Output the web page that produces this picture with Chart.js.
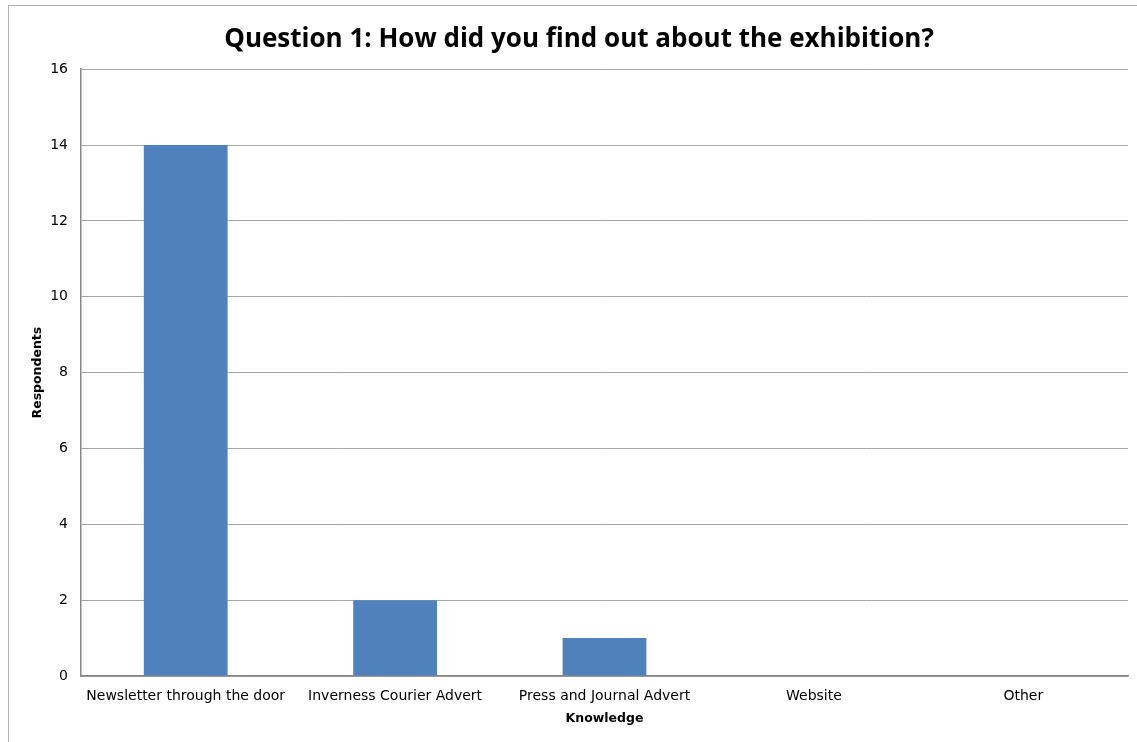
<!DOCTYPE html>
<html>
<head>
<meta charset="utf-8">
<script src="https://cdn.jsdelivr.net/npm/chart.js@4/dist/chart.umd.min.js"></script>
<style>
  html, body { margin: 0; padding: 0; background: #fff; overflow: hidden; }
  #wrap { position: absolute; left: 0; top: 0; width: 1137px; height: 742px; }
  #frame { position: absolute; left: 8px; top: 5px; width: 1200px; height: 800px; border: 1px solid #b3b3b3; box-sizing: border-box; }
</style>
</head>
<body>
<div id="frame"></div>
<div id="wrap"><canvas id="chart" width="1137" height="742"></canvas></div>
<script>
const categories = ['Newsletter through the door', 'Inverness Courier Advert', 'Press and Journal Advert', 'Website', 'Other'];
const respondents = [14, 2, 1, 0, 0];
const yTicks = [0, 2, 4, 6, 8, 10, 12, 14, 16];

const tickFont = { family: 'DejaVu Sans', size: 14 };
const boldFont = { family: 'DejaVu Sans', size: 12.5, weight: 'bold' };

new Chart(document.getElementById('chart'), {
    type: 'bar',
    data: {
        labels: categories,
        datasets: [{
            label: 'Respondents',
            data: respondents,
            backgroundColor: '#4F81BD',
            barPercentage: 0.8,
            categoryPercentage: 0.5
        }]
    },
    options: {
        responsive: false,
        animation: false,
        layout: { padding: { left: 30, right: 9, top: 0, bottom: 16 } },
        plugins: {
            legend: { display: false },
            tooltip: { enabled: false },
            title: {
                display: true,
                text: 'Question 1: How did you find out about the exhibition?',
                color: '#000',
                font: { family: 'Open Sans', size: 26, weight: 'bold', lineHeight: 1.2 },
                padding: { top: 24, bottom: 14 }
            }
        },
        scales: {
            x: {
                grid: { display: false },
                border: { display: true, color: '#868686', width: 1.5 },
                ticks: { color: '#000', font: tickFont, padding: 4, maxRotation: 0, autoSkip: false },
                title: { display: true, text: 'Knowledge', color: '#000', font: boldFont, padding: { top: 2, bottom: 0 } },
                afterFit: s => { s.height = 50; }
            },
            y: {
                min: 0,
                max: 16,
                afterBuildTicks: s => { s.ticks = yTicks.map(v => ({ value: v })); },
                grid: { color: '#a6a6a6', drawTicks: false },
                border: { display: true, color: '#868686', width: 1.5 },
                ticks: { color: '#000', font: tickFont, padding: 13 },
                title: { display: true, text: 'Respondents', color: '#000', font: boldFont, padding: 0 },
                afterFit: s => { s.width = 51; }
            }
        }
    }
});
</script>
</body>
</html>
